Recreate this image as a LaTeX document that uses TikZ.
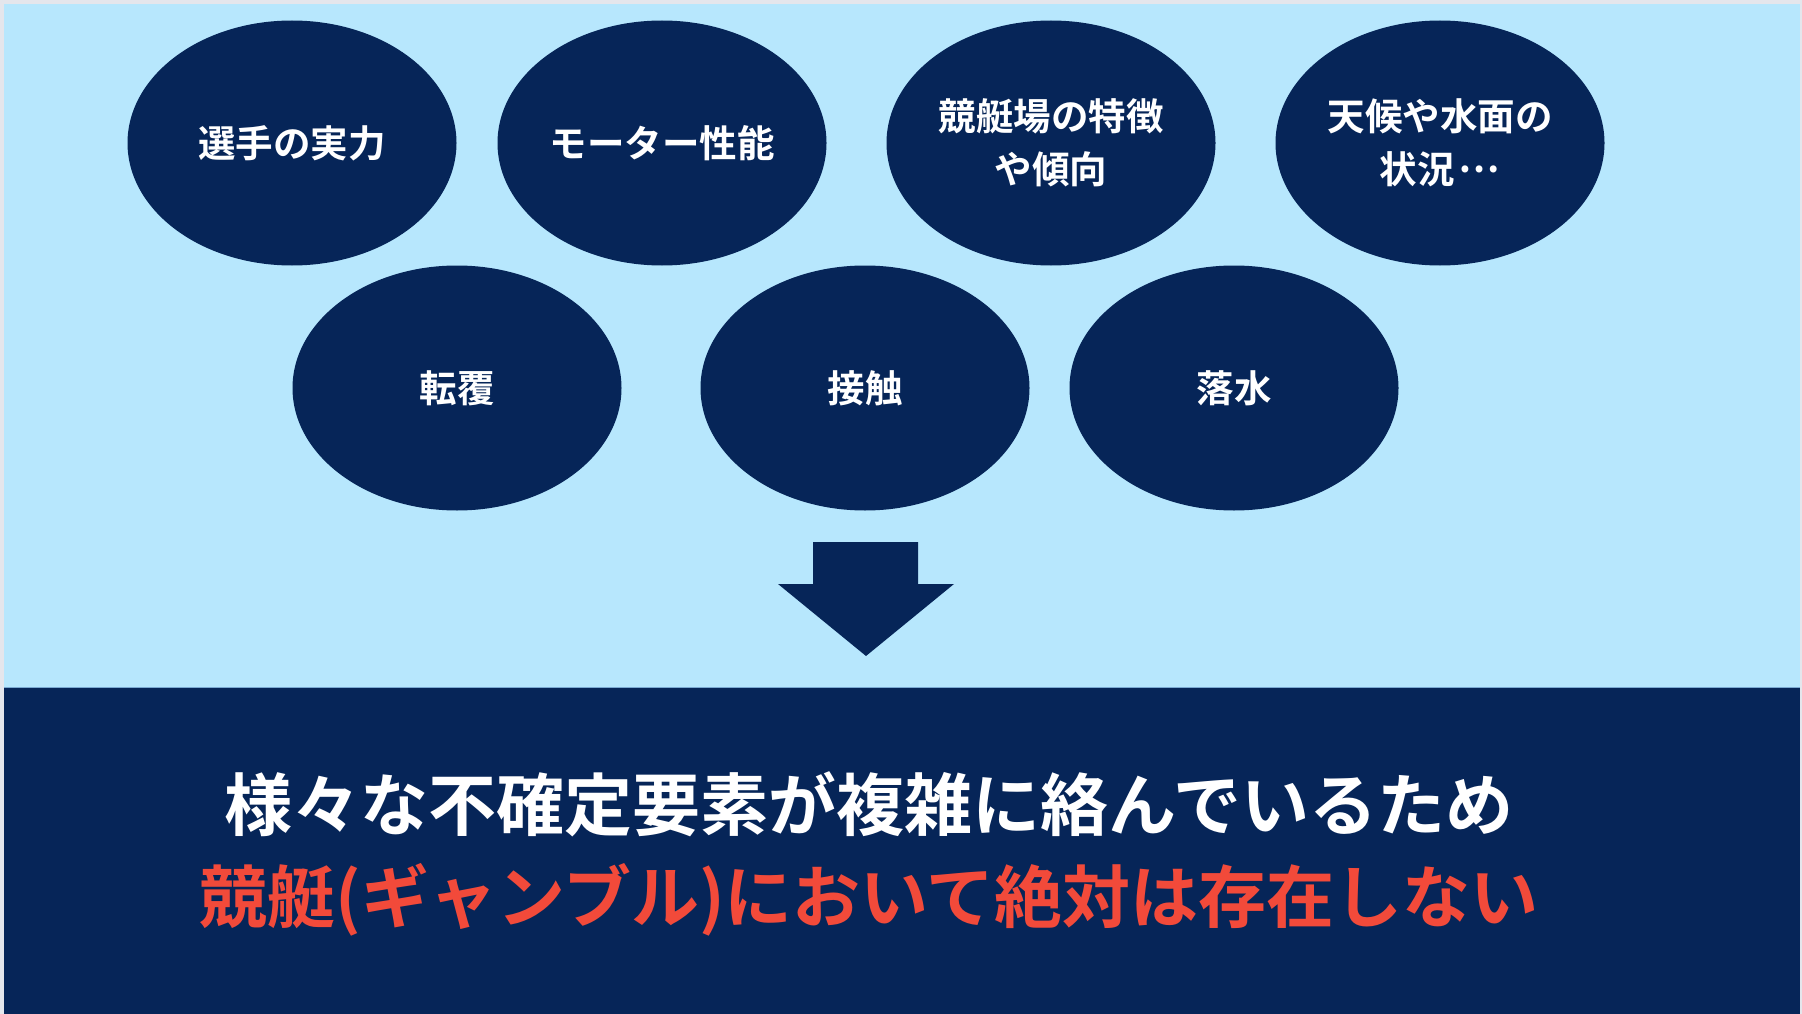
\documentclass[tikz,border=0pt]{standalone}
\usepackage{fontspec}
\setmainfont{Noto Sans CJK JP}[BoldFont={Noto Sans CJK JP Bold}]
\usetikzlibrary{shapes.geometric}
\definecolor{bgblue}{HTML}{B7E7FD}
\definecolor{navy}{HTML}{062558}
\definecolor{alertred}{HTML}{F24A3A}
\definecolor{frame}{HTML}{E4E6EC}
\definecolor{edgeline}{HTML}{7AAAD2}
\begin{document}
\begin{tikzpicture}[x=1pt,y=-1pt,
  factor/.style={ellipse, fill=navy, draw=none, minimum width=329pt, minimum height=245pt,
    inner sep=0pt, text=white, align=center, font=\bfseries\fontsize{37.5}{53}\selectfont},
  bigline/.style={inner sep=0pt, anchor=center, font=\bfseries\fontsize{68}{80}\selectfont}]
\useasboundingbox (0,0) rectangle (1802,1014);
\fill[frame] (0,0) rectangle (1802,1014);
\fill[bgblue] (4,4) rectangle (1800,1014);
\fill[navy] (4,687) rectangle (1800,1014);
\draw[edgeline, line width=1pt] (4,687) -- (1800,687);
% factor ellipses
\node[factor] (skill) at (292,143) {選手の実力};
\node[factor] (motor) at (662,143) {モーター性能};
\node[factor] (venue) at (1051,143) {競艇場の特徴\\や傾向};
\node[factor] (weather) at (1440,143) {天候や水面の\\状況\hspace{0.1em}\raisebox{0.3em}{…}};
\node[factor] (capsize) at (457,388) {転覆};
\node[factor] (contact) at (865,388) {接触};
\node[factor] (fall) at (1234,388) {落水};
% arrow
\fill[navy] (813,542) -- (918,542) -- (918,584) -- (954,584) -- (866,656) -- (778,584) -- (813,584) -- cycle;
% conclusion text
\node[bigline, text=white] (line1) at (869,804) {様々な不確定要素が複雑に絡んでいるため};
\node[bigline, text=alertred] (line2) at (869,900) {競艇(ギャンブル)において絶対は存在しない};
\end{tikzpicture}
\end{document}
